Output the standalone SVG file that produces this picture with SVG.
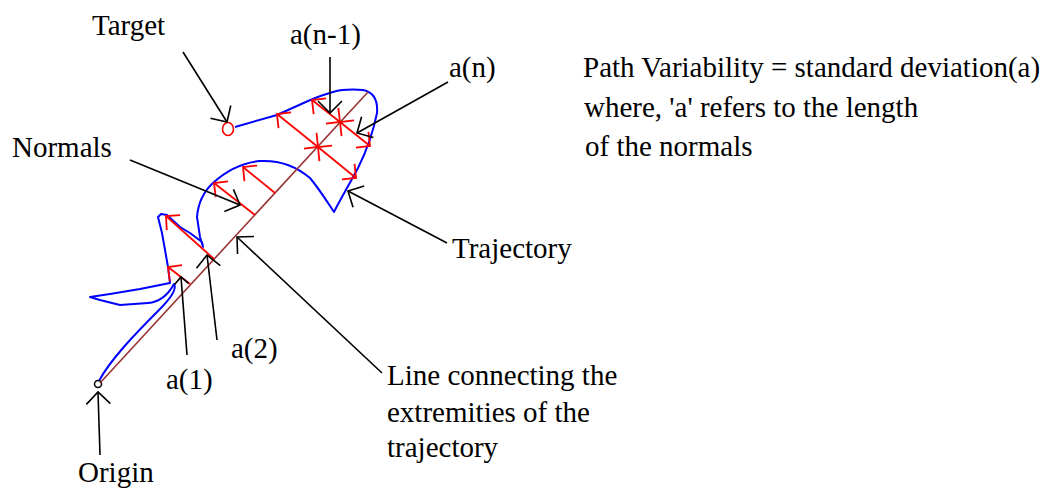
<svg xmlns="http://www.w3.org/2000/svg" width="1059" height="494" viewBox="0 0 1059 494">
<style>
.t{font-family:"Liberation Serif","Times New Roman",serif;font-size:29px;fill:#000}
.traj{fill:none;stroke:#0000ff;stroke-width:2;stroke-linejoin:round}
.main{fill:none;stroke:#993333;stroke-width:1.6}
.norm{fill:none;stroke:#ff0000;stroke-width:1.8}
.ptr{fill:none;stroke:#000;stroke-width:1.6}
</style>
<defs>
<marker id="ab" viewBox="-20 -20 40 40" markerWidth="40" markerHeight="40" refX="0" refY="0" orient="auto" markerUnits="userSpaceOnUse"><path d="M-12,-12 L0,0 L-12,12" fill="none" stroke="#000" stroke-width="1.6"/></marker>
<marker id="abs" viewBox="-20 -20 40 40" markerWidth="40" markerHeight="40" refX="0" refY="0" orient="auto" markerUnits="userSpaceOnUse"><path d="M-7,-7 L0,0 L-7,7" fill="none" stroke="#000" stroke-width="1.6"/></marker>
<marker id="ar" viewBox="-20 -20 40 40" markerWidth="40" markerHeight="40" refX="0" refY="0" orient="auto-start-reverse" markerUnits="userSpaceOnUse"><path d="M-10,-10 L0,0 L-10,10" fill="none" stroke="#ff0000" stroke-width="1.8"/></marker>
</defs>

<g id="trajectory">
<path class="traj" d="M99,381 C110,360 135,334 160,309 C170,299 177,289 174,284 C168,295 160,302 148,303 L120,305 L100,300 L90,297 L110,294 L140,289 L170,283 L168,267 L165,250 L162,233 L158,217 L161,214 L167,215 L180,227 L190,233 L202,242 L203,247 L200,237 L197,217 C198,205 202,193 213,183 C225,172 240,163 260,161 C280,160 296,166 310,178 C320,190 328,203 334,212 C340,200 350,183 358,168 C366,152 373,133 377,113 C378,100 373,92 363,90 C350,89 340,90 333,92 C322,95 315,98 308,101 L277,115 L235,127"/>
</g>

<g id="target-point">
<ellipse cx="228" cy="129" rx="5.5" ry="6.5" fill="#fff" stroke="#ff0000" stroke-width="1.6"/>
</g>

<g id="origin-point">
<circle cx="98" cy="384" r="3.5" fill="#fff" stroke="#000" stroke-width="1.5"/>
</g>

<g id="extremities-line">
<line class="main" x1="100" y1="383" x2="368" y2="92"/>
</g>

<g id="normals">
<line class="norm" x1="190" y1="284" x2="168" y2="267" marker-end="url(#ar)"/>
<line class="norm" x1="214" y1="259" x2="166" y2="216" marker-end="url(#ar)"/>
<line class="norm" x1="255" y1="215" x2="214" y2="183" marker-end="url(#ar)"/>
<line class="norm" x1="275" y1="193" x2="243" y2="167" marker-end="url(#ar)"/>
<line class="norm" x1="318" y1="147" x2="277" y2="114" marker-start="url(#ar)" marker-end="url(#ar)"/>
<line class="norm" x1="318" y1="147" x2="356" y2="178" marker-start="url(#ar)" marker-end="url(#ar)"/>
<line class="norm" x1="340" y1="122" x2="312" y2="100" marker-start="url(#ar)" marker-end="url(#ar)"/>
<line class="norm" x1="340" y1="122" x2="370" y2="146" marker-start="url(#ar)" marker-end="url(#ar)"/>
</g>

<g id="connectors">
<line class="ptr" x1="183" y1="52" x2="227" y2="122" marker-end="url(#ab)"/>
<line class="ptr" x1="330" y1="57" x2="330" y2="113" marker-end="url(#ab)"/>
<line class="ptr" x1="448" y1="82" x2="357" y2="133" marker-end="url(#ab)"/>
<line class="ptr" x1="130" y1="160" x2="240" y2="205" marker-end="url(#ab)"/>
<line class="ptr" x1="447" y1="243" x2="348" y2="191" marker-end="url(#ab)"/>
<line class="ptr" x1="382" y1="373" x2="237" y2="237" marker-end="url(#ab)"/>
<line class="ptr" x1="187" y1="355" x2="181" y2="277" marker-end="url(#abs)"/>
<line class="ptr" x1="217" y1="340" x2="207" y2="255" marker-end="url(#ab)"/>
<line class="ptr" x1="100" y1="455" x2="98" y2="392" marker-end="url(#ab)"/>
</g>

<g id="label-target"><text class="t" x="92" y="35">Target</text></g>
<g id="label-an1"><text class="t" x="290" y="44">a(n-1)</text></g>
<g id="label-an"><text class="t" x="449" y="77">a(n)</text></g>
<g id="label-normals"><text class="t" x="12" y="157">Normals</text></g>
<g id="label-trajectory"><text class="t" x="452" y="258">Trajectory</text></g>
<g id="label-line"><text class="t" x="387" y="385">Line connecting the</text><text class="t" x="387" y="422">extremities of the</text><text class="t" x="387" y="457">trajectory</text></g>
<g id="label-a1"><text class="t" x="166" y="389">a(1)</text></g>
<g id="label-a2"><text class="t" x="231" y="358">a(2)</text></g>
<g id="label-origin"><text class="t" x="78" y="482">Origin</text></g>
<g id="label-formula"><text class="t" x="583" y="77">Path Variability = standard deviation(a)</text><text class="t" x="584" y="117">where, 'a' refers to the length</text><text class="t" x="585" y="156">of the normals</text></g>
</svg>
